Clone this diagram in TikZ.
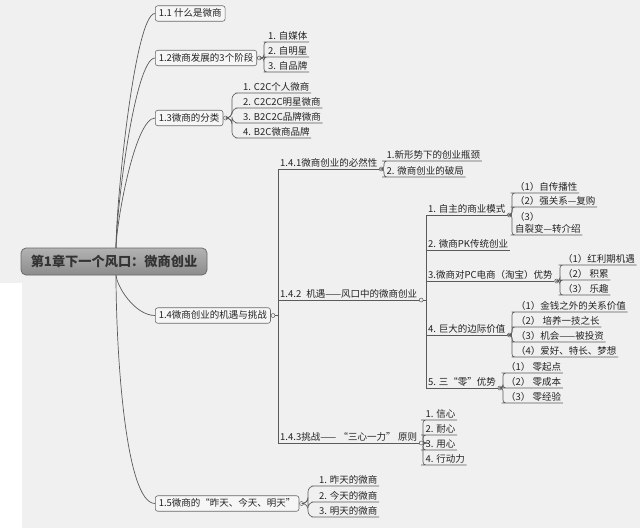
\documentclass[tikz,border=0pt]{standalone}
\usepackage{fontspec}
\setmainfont{Noto Sans CJK SC}
\definecolor{bg}{RGB}{240,240,240}
\definecolor{lc}{RGB}{90,90,90}
\definecolor{tc}{RGB}{35,35,35}
\definecolor{bx}{RGB}{246,246,246}
\definecolor{bxd}{RGB}{105,105,105}
\newcommand\fs{\fontsize{9.5}{11}\selectfont}
\begin{document}
\begin{tikzpicture}[x=1pt,y=-1pt,
  every node/.style={font=\fs, text=tc},
  box/.style={draw=bxd, fill=bx, rounded corners=2.5pt, anchor=west, inner xsep=3.5pt, inner ysep=0pt, minimum height=15.5pt, line width=0.6pt, text height=8pt, text depth=2pt},
  ul/.style={anchor=south west, inner xsep=1.5pt, inner ysep=1pt, text height=8.5pt, text depth=1.5pt},
  dot/.style={circle, draw=lc, fill=bg, inner sep=0pt, minimum size=4pt, line width=0.5pt},
  link/.style={draw=lc, line width=0.6pt},
  rc/.style={rounded corners=3pt},
  rcb/.style={rounded corners=6pt},
  curve/.style={draw=lc, line width=0.7pt},
  rootbox/.style={draw=black!60, top color=black!30, bottom color=black!45, rounded corners=5pt, minimum width=186pt, minimum height=27pt, font=\fontsize{13.2}{15}\selectfont\bfseries, text=black!80, line width=0.7pt}
]
\useasboundingbox (0,0) rectangle (640,528);
\fill[bg] (0,0) rectangle (640,528);
\fill[white] (0,283) rectangle (22,528);

% level 1 boxes
\node[box] (n11) at (155,13.5) {1.1 什么是微商};
\node[box] (n12) at (155,58) {1.2微商发展的3个阶段};
\node[box] (n13) at (155,118) {1.3微商的分类};
\node[box] (n14) at (155,315.5) {1.4微商创业的机遇与挑战};
\node[box] (n15) at (155,503.5) {1.5微商的“昨天、今天、明天”};

\coordinate (rt) at (116,249);
\coordinate (rb) at (116,274);
\draw[curve] (rt) .. controls +(0,-48) and +(-20,0) .. (n11.west);
\draw[curve] (rt) .. controls +(0,-38) and +(-20,0) .. (n12.west);
\draw[curve] (rt) .. controls +(0,-26) and +(-20,0) .. (n13.west);
\draw[curve] (rb) .. controls +(0,12) and +(-20,0) .. (n14.west);
\draw[curve] (rb) .. controls +(0,75) and +(-30,0) .. (n15.west);

\node[rootbox] (root) at (114,261.5) {第1章下一个风口：微商创业};

% dots on boxes
\node[dot, anchor=west] (d12) at (n12.east) {};
\node[dot, anchor=west] (d13) at (n13.east) {};
\node[dot, anchor=west] (d14) at (n14.east) {};
\node[dot, anchor=west] (d15) at (n15.east) {};

% 1.2 children
\node[ul] (a1) at (266.5,42) {1. 自媒体};
\node[ul] (a2) at (266.5,57) {2. 自明星};
\node[ul] (a3) at (266.5,72) {3. 自品牌};
\foreach \k in {a1,a2,a3}
  \draw[link,rc] (d12.east) -- (264,58) |- (\k.south west) -- (\k.south east);

% 1.3 children
\node[ul] (b1) at (241.5,93) {1. C2C个人微商};
\node[ul] (b2) at (241.5,108) {2. C2C2C明星微商};
\node[ul] (b3) at (241.5,123) {3. B2C2C品牌微商};
\node[ul] (b4) at (241.5,138) {4. B2C微商品牌};
\foreach \k in {b1,b2,b3,b4}
  \draw[link,rcb] (d13.east) -- (232,118) |- (\k.south west) -- (\k.south east);

% 1.4 sub
\node[ul] (n141) at (278.5,169) {1.4.1微商创业的必然性};
\node[ul] (n142) at (278.5,300) {1.4.2\hspace{5pt}机遇——风口中的微商创业};
\node[ul] (n143) at (278.5,443) {1.4.3挑战——\hspace{2.5pt}“三心一力”\hspace{2.5pt}原则};
\draw[link] (d14.east) -- (278,315.5);
\draw[link] (n141.south east) -- (278,169) -- (278,443) -- (n143.south east);
\draw[link] (278,300) -- (n142.south east);
\node[dot, anchor=west] (d141) at (n141.south east) {};
\node[dot, anchor=west] (d142) at (n142.south east) {};
\node[dot, anchor=west] (d143) at (n143.south east) {};

% 1.4.1 children
\node[ul] (c1) at (385,161) {1.新形势下的创业瓶颈};
\node[ul] (c2) at (385,177) {2. 微商创业的破局};
\foreach \k in {c1,c2}
  \draw[link,rc] (d141.east) -- (384,169) |- (\k.south west) -- (\k.south east);

% 1.4.2 children
\node[ul] (k1) at (426.5,215) {1. 自主的商业模式};
\node[ul] (k2) at (426.5,250) {2. 微商PK传统创业};
\node[ul] (k3) at (426.5,281) {3.微商对PC电商（淘宝）优势};
\node[ul] (k4) at (426.5,335) {4. 巨大的边际价值};
\node[ul] (k5) at (426.5,388) {5. 三“零”优势};
\draw[link] (d142.east) -- (426,300);
\draw[link] (k1.south east) -- (426,215) -- (426,388) -- (k5.south east);
\draw[link] (426,250) -- (k2.south east);
\draw[link] (426,281) -- (k3.south east);
\draw[link] (426,335) -- (k4.south east);
\node[dot, anchor=west] (dk1) at (k1.south east) {};
\node[dot, anchor=west] (dk3) at (k3.south east) {};
\node[dot, anchor=west] (dk4) at (k4.south east) {};
\node[dot, anchor=west] (dk5) at (k5.south east) {};

% k1 children
\node[ul] (e1) at (513.5,193) {（1）自传播性};
\node[ul] (e2) at (513.5,207) {（2）强关系—复购};
\node[ul] (e3a) at (513.5,223) {（3）};
\node[ul] (e3) at (513.5,235) {自裂变—转介绍};
\foreach \k in {e1,e2,e3}
  \draw[link,rc] (dk1.east) -- (512,215) |- (\k.south west) -- (\k.south east);

% k3 children
\node[ul] (f1) at (561.5,265) {（1）红利期机遇};
\node[ul] (f2) at (561.5,280) {（2） 积累};
\node[ul] (f3) at (561.5,295) {（3） 乐趣};
\foreach \k in {f1,f2,f3}
  \draw[link,rc] (dk3.east) -- (560,281) |- (\k.south west) -- (\k.south east);

% k4 children
\node[ul] (g1) at (514.5,312) {（1）金钱之外的关系价值};
\node[ul] (g2) at (514.5,327) {（2） 培养一技之长};
\node[ul] (g3) at (514.5,342) {（3）机会——被投资};
\node[ul] (g4) at (514.5,357) {（4）爱好、特长、梦想};
\foreach \k in {g1,g2,g3,g4}
  \draw[link,rc] (dk4.east) -- (512,335) |- (\k.south west) -- (\k.south east);

% k5 children
\node[ul] (h1) at (504.5,373) {（1） 零起点};
\node[ul] (h2) at (504.5,388) {（2） 零成本};
\node[ul] (h3) at (504.5,403) {（3） 零经验};
\foreach \k in {h1,h2,h3}
  \draw[link,rc] (dk5.east) -- (503,388) |- (\k.south west) -- (\k.south east);

% 1.4.3 children
\node[ul] (i1) at (424,420) {1. 信心};
\node[ul] (i2) at (424,435) {2. 耐心};
\node[ul] (i3) at (424,450) {3. 用心};
\node[ul] (i4) at (424,465) {4. 行动力};
\foreach \k in {i1,i2,i3,i4}
  \draw[link,rc] (d143.east) -- (423,443) |- (\k.south west) -- (\k.south east);

% 1.5 children
\node[ul] (j1) at (317.5,486) {1. 昨天的微商};
\node[ul] (j2) at (317.5,502) {2. 今天的微商};
\node[ul] (j3) at (317.5,517) {3. 明天的微商};
\foreach \k in {j1,j2,j3}
  \draw[link,rcb] (d15.east) -- (308,503.5) |- (\k.south west) -- (\k.south east);
\end{tikzpicture}
\end{document}
